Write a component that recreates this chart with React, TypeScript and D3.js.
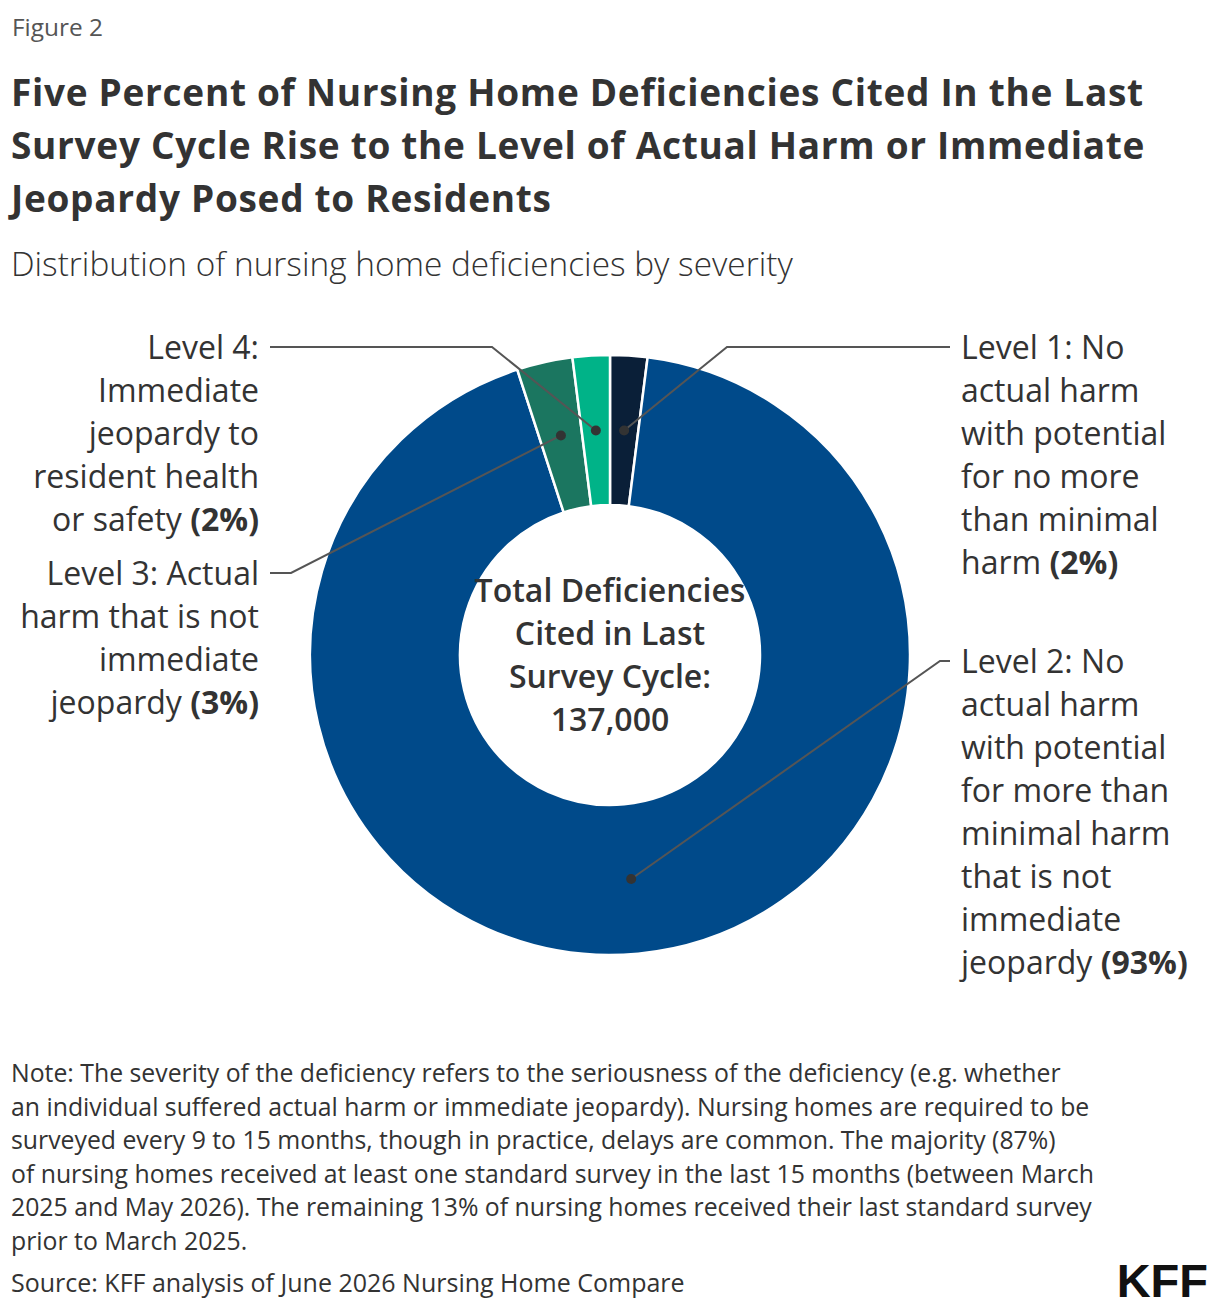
import { arc as d3Arc, pie as d3Pie } from "d3";

// Deficiency shares by severity level, clockwise from 12 o'clock
const levels = ["Level 1", "Level 2", "Level 3", "Level 4"];
const shares = [2, 93, 3, 2];
const colors = ["#0a1f38", "#004a8a", "#1b7660", "#00b388"];

// Label copy, one array of lines per level; the last line ends with the bold share
const labelLines = [
  ["Level 1: No", "actual harm", "with potential", "for no more", "than minimal", "harm"],
  ["Level 2: No", "actual harm", "with potential", "for more than", "minimal harm", "that is not", "immediate", "jeopardy"],
  ["Level 3: Actual", "harm that is not", "immediate", "jeopardy"],
  ["Level 4:", "Immediate", "jeopardy to", "resident health", "or safety"],
];

const centerLines = ["Total Deficiencies", "Cited in Last", "Survey Cycle:", "137,000"];

const title = [
  "Five Percent of Nursing Home Deficiencies Cited In the Last",
  "Survey Cycle Rise to the Level of Actual Harm or Immediate",
  "Jeopardy Posed to Residents",
];
const subtitle = "Distribution of nursing home deficiencies by severity";
const noteLines = [
  "Note: The severity of the deficiency refers to the seriousness of the deficiency (e.g. whether",
  "an individual suffered actual harm or immediate jeopardy). Nursing homes are required to be",
  "surveyed every 9 to 15 months, though in practice, delays are common. The majority (87%)",
  "of nursing homes received at least one standard survey in the last 15 months (between March",
  "2025 and May 2026). The remaining 13% of nursing homes received their last standard survey",
  "prior to March 2025.",
];
const source = "Source: KFF analysis of June 2026 Nursing Home Compare";

const W = 1220;
const H = 1312;
const FONT = "'Source Sans Pro', 'Open Sans', sans-serif";
const TEXT = "#333333";

const cx = 610;
const cy = 655;
const outerR = 300;
const innerR = 150;

// leader layout: y of horizontal run, elbow x, end x, side
const leaders = [
  { y: 347, elbowX: 727, endX: 950, side: "right" },
  { y: 661, elbowX: 940, endX: 950, side: "right" },
  { y: 573, elbowX: 291, endX: 270, side: "left" },
  { y: 347, elbowX: 492, endX: 270, side: "left" },
];

const LINE_H = 43;

export default function App() {
  const pie = d3Pie<number>().sort(null).value((d) => d);
  const arcs = pie(shares);
  const arc = d3Arc<any>().innerRadius(innerR).outerRadius(outerR);

  return (
    <svg
      width={W}
      height={H}
      style={{ position: "absolute", left: 0, top: 0, background: "#fff" }}
      fontFamily={FONT}
    >
      <rect width={W} height={H} fill="#fff" />
      <text x={12} y={36} fontSize={24.4} fill="#555">
        Figure 2
      </text>
      {title.map((t, i) => (
        <text key={i} x={11} y={106 + i * 53} fontSize={37} fontWeight={700} fill={TEXT} letterSpacing={0.7}>
          {t}
        </text>
      ))}
      <text x={11} y={276} fontSize={33.4} fontWeight={300} fill={TEXT}>
        {subtitle}
      </text>

      <g transform={`translate(${cx},${cy})`}>
        {arcs.map((a, i) => (
          <path key={levels[i]} d={arc(a) || ""} fill={colors[i]} stroke="#fff" strokeWidth={2.5} />
        ))}
      </g>

      {arcs.map((a, i) => {
        const [px, py] = arc.centroid(a);
        const L = leaders[i];
        const dx = cx + px;
        const dy = cy + py;
        return (
          <g key={"leader" + i}>
            <polyline
              points={`${dx},${dy} ${L.elbowX},${L.y} ${L.endX},${L.y}`}
              fill="none"
              stroke="#555"
              strokeWidth={2}
            />
            <circle cx={dx} cy={dy} r={5} fill="#333" />
          </g>
        );
      })}

      {labelLines.map((lines, i) => {
        const L = leaders[i];
        const right = L.side === "right";
        const x = right ? 961 : 259;
        return (
          <text
            key={"label" + i}
            x={x}
            fontSize={32}
            fill={TEXT}
            textAnchor={right ? "start" : "end"}
          >
            {lines.map((ln, j) => (
              <tspan key={j} x={x} y={L.y + 12 + j * LINE_H}>
                {ln}
                {j === lines.length - 1 ? (
                  <tspan fontWeight={700}>{` (${shares[i]}%)`}</tspan>
                ) : null}
              </tspan>
            ))}
          </text>
        );
      })}

      <text x={cx} textAnchor="middle" fontSize={32} fontWeight={600} fill={TEXT}>
        {centerLines.map((ln, j) => (
          <tspan key={j} x={cx} y={602 + j * 43}>
            {ln}
          </tspan>
        ))}
      </text>

      {noteLines.map((ln, i) => (
        <text key={i} x={11} y={1082 + i * 33.6} fontSize={24.8} fill={TEXT}>
          {ln}
        </text>
      ))}
      <text x={11} y={1292} fontSize={25} fill={TEXT}>
        {source}
      </text>

      <text
        x={1208}
        y={1297}
        textAnchor="end"
        fontSize={47}
        fontWeight={700}
        fill="#111"
        fontFamily="'Liberation Sans', Arial, sans-serif"
      >
        KFF
      </text>
    </svg>
  );
}
